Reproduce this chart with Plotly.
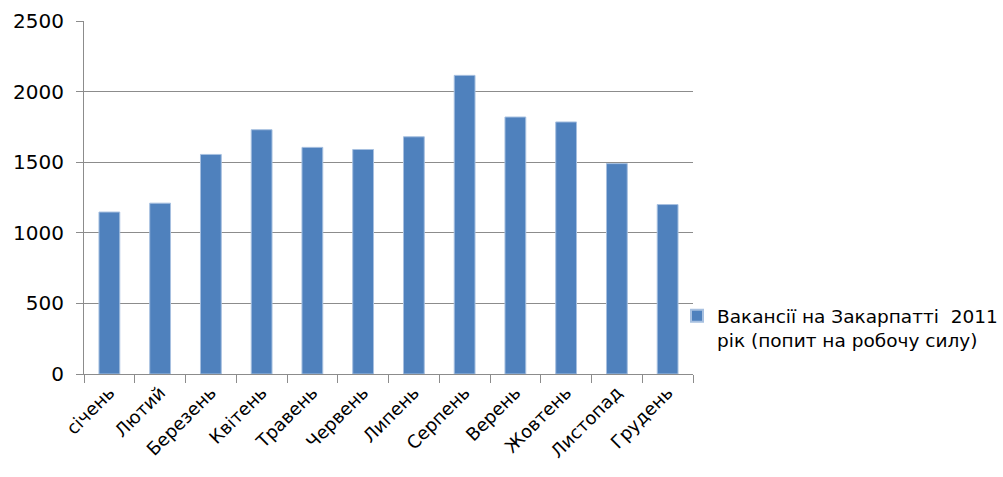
import plotly.graph_objects as go

months = ["січень", "Лютий", "Березень", "Квітень", "Травень", "Червень",
          "Липень", "Серпень", "Верень", "Жовтень", "Листопад", "Грудень"]
vacancies = [1147, 1210, 1555, 1730, 1605, 1590, 1680, 2115, 1820, 1785, 1490, 1200]
series_name = "Вакансії на Закарпатті  2011<br>рік (попит на робочу силу)"
y_ticks = [0, 500, 1000, 1500, 2000, 2500]

font_family = "'DejaVu Sans', sans-serif"

fig = go.Figure(
    go.Bar(
        x=months,
        y=vacancies,
        name=series_name,
        marker=dict(color="#4F81BD", line=dict(color="#A7C0E0", width=1)),
        showlegend=True,
    )
)

fig.update_layout(
    width=1003,
    height=477,
    margin=dict(l=84, r=310, t=21, b=103, autoexpand=False),
    paper_bgcolor="white",
    plot_bgcolor="white",
    bargap=0.59,
    font=dict(family=font_family, size=18.5, color="#000000"),
    legend=dict(
        xref="container", yref="container",
        x=0.675, xanchor="left",
        y=0.312, yanchor="middle",
        valign="top",
        font=dict(size=18.5, family=font_family),
        itemsizing="constant",
        bgcolor="rgba(0,0,0,0)",
        traceorder="normal",
        itemwidth=30,
    ),
    xaxis=dict(
        type="category",
        showline=True, linecolor="#8C8C8C", linewidth=1,
        ticks="outside", tickson="boundaries", ticklen=8, tickcolor="#8C8C8C",
        tickangle=-45,
        tickfont=dict(size=18, family=font_family),
        showgrid=False,
    ),
    yaxis=dict(
        range=[0, 2500],
        tickvals=y_ticks,
        showline=True, linecolor="#8C8C8C", linewidth=1,
        ticks="outside", ticklen=7, tickcolor="#8C8C8C",
        showgrid=True, gridcolor="#8C8C8C", gridwidth=1,
        zeroline=False,
        tickfont=dict(size=20, family=font_family),
        ticklabelstandoff=8,
    ),
)

fig.write_html("out.html")
